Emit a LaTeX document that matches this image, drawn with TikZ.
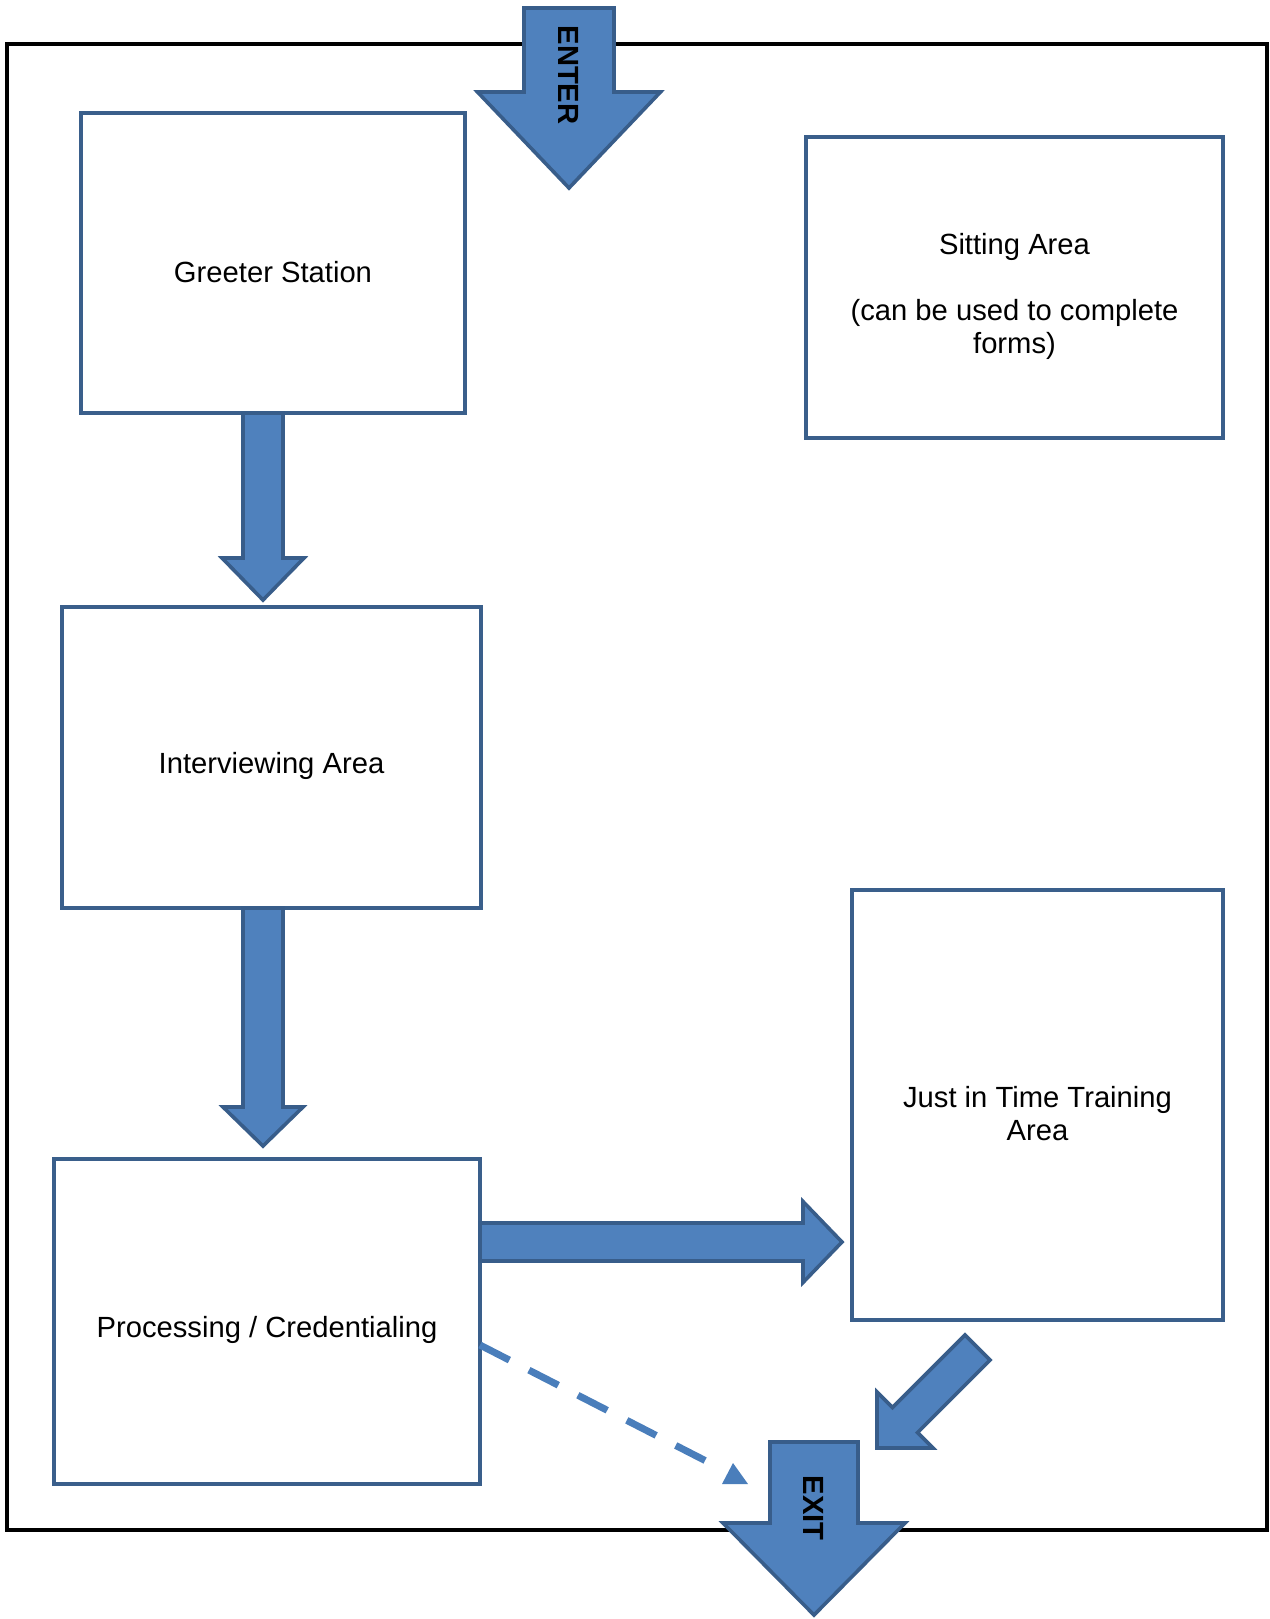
\documentclass[tikz,border=0pt]{standalone}
\usepackage{fontspec}
\setmainfont{Liberation Sans}
\usetikzlibrary{calc}

\definecolor{boxline}{HTML}{3A5F8B}
\definecolor{arrowfill}{HTML}{4F81BD}
\definecolor{arrowline}{HTML}{385D8A}
\definecolor{dashblue}{HTML}{4A7EBB}

\tikzset{
  area/.style={draw=boxline, line width=1.8pt, fill=white, outer sep=0pt, inner sep=0pt,
    align=center, font=\fontsize{14.6}{16.6}\selectfont},
  arrowbody/.style={fill=arrowfill, draw=arrowline, line width=1.8pt},
  dashline/.style={draw=dashblue, line width=3.5pt, dash pattern=on 16.5pt off 11pt},
  doorlabel/.style={font=\fontsize{14.6}{16.6}\selectfont\bfseries, rotate=-90, inner sep=0pt}
}

\newcommand{\lift}{\rule{0pt}{19.5pt}}
% block arrow: start, tip, half shaft, half head, head length
\newcommand{\blockarrow}[5]{%
  \coordinate (hb) at ($(#2)!#5!(#1)$);
  \filldraw[arrowbody] ($(#1)!#3!90:(#2)$) -- ($(hb)!#3!90:(#2)$) -- ($(hb)!#4!90:(#2)$) -- (#2)
    -- ($(hb)!#4!-90:(#2)$) -- ($(hb)!#3!-90:(#2)$) -- ($(#1)!#3!-90:(#2)$) -- cycle;}

\begin{document}
\begin{tikzpicture}[x=0.5pt, y=-0.5pt]
  \useasboundingbox (0,0) rectangle (1270,1619);
  \draw [line width=2pt] (7,44) rectangle (1267,1530);

  \node (greet) [area, minimum width=192pt, minimum height=150pt] at (273,263) {\lift Greeter Station};
  \node (sit) [area, minimum width=208.5pt, minimum height=150.5pt] at (1014.5,287.5)
    {\lift Sitting Area\\[16.6pt](can be used to complete\\forms)};
  \node (inter) [area, minimum width=209.5pt, minimum height=150.5pt] at (271.5,757.5) {\lift Interviewing Area};
  \node (proc) [area, minimum width=213pt, minimum height=162.5pt] at (267,1321.5) {\lift Processing / Credentialing};
  \node (jit) [area, minimum width=185.5pt, minimum height=215pt] at (1037.5,1105)
    {\lift Just in Time Training\\Area};

  \coordinate (in-s) at (569,8);
  \coordinate (in-e) at (569,188);
  \coordinate (a1-s) at ([xshift=-5pt]greet.south);
  \coordinate (a1-e) at ($(a1-s)+(0,187)$);
  \coordinate (a2-s) at ([xshift=-4.25pt]inter.south);
  \coordinate (a2-e) at ($(a2-s)+(0,238)$);
  \coordinate (a3-s) at ([yshift=39.75pt]proc.east);
  \coordinate (a3-e) at ($(a3-s)+(362,0)$);
  \coordinate (a4-s) at (977.5,1347.5);
  \coordinate (a4-e) at (877,1448);
  \coordinate (out-s) at (814,1442);
  \coordinate (out-e) at (814,1615);
  \coordinate (d-e) at (708,1462);

  \blockarrow{in-s}{in-e}{22.5pt}{45.75pt}{48pt}
  \blockarrow{a1-s}{a1-e}{10pt}{20.5pt}{21pt}
  \blockarrow{a2-s}{a2-e}{10pt}{20pt}{19.5pt}
  \blockarrow{a3-s}{a3-e}{9.5pt}{20.25pt}{19.5pt}
  \blockarrow{a4-s}{a4-e}{8.85pt}{19.8pt}{19.8pt}
  \blockarrow{out-s}{out-e}{22pt}{45.5pt}{46pt}

  \draw [dashline] ([yshift=-11.75pt]proc.east) -- (d-e);
  \fill [dashblue] (733,1463) -- (748,1484) -- (722,1484) -- cycle; % tip of the dashed path

  \node (enter) [doorlabel] at (569,75) {ENTER};
  \node (exit) [doorlabel] at (814,1508) {EXIT};
\end{tikzpicture}
\end{document}
